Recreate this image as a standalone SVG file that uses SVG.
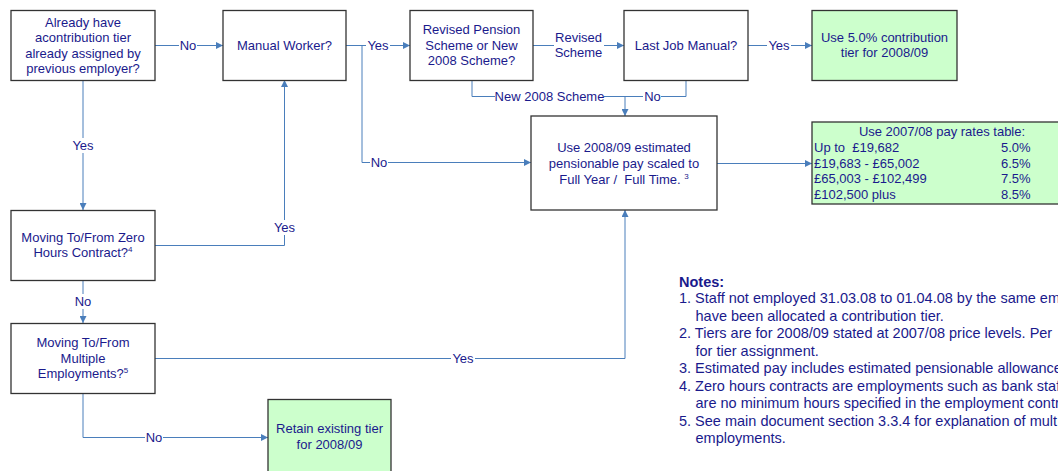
<svg xmlns="http://www.w3.org/2000/svg" width="1058" height="471" viewBox="0 0 1058 471">
<defs>
<marker id="ah" viewBox="0 0 10 10" refX="10" refY="5" markerWidth="7" markerHeight="7" markerUnits="userSpaceOnUse" orient="auto">
<path d="M0,0 L10,5 L0,10 z" fill="#4a7ebb"/>
</marker>
<style>
.box{fill:#ffffff;stroke:#333333;stroke-width:1.3}
.gbox{fill:#ccffcc;stroke:#333333;stroke-width:1.3}
.t{font-family:"Liberation Sans",Arial,sans-serif;font-size:13px;fill:#1a1a8c;text-anchor:middle}
.tl{font-family:"Liberation Sans",Arial,sans-serif;font-size:13px;fill:#1a1a8c}
.n{font-family:"Liberation Sans",Arial,sans-serif;font-size:14.5px;fill:#1a1a8c}
.c{fill:none;stroke:#4a7ebb;stroke-width:1}
.ca{fill:none;stroke:#4a7ebb;stroke-width:1;marker-end:url(#ah)}
.lb{fill:#ffffff}
.sup{font-size:8px}
</style>
</defs>
<rect width="1058" height="471" fill="#ffffff"/>
<g id="connectors">
<path class="ca" d="M155,45.5 H223"/>
<path class="ca" d="M346,45.5 H410"/>
<path class="ca" d="M362,45.5 V162.5 H531"/>
<path class="ca" d="M533,45.5 H624"/>
<path class="ca" d="M748,45.5 H812"/>
<path class="c" d="M472,80 V96.5 H625"/>
<path class="c" d="M686,80 V96.5 H625"/>
<path class="ca" d="M625,96.5 V116"/>
<path class="ca" d="M717,163.5 H812"/>
<path class="ca" d="M83,80 V210"/>
<path class="ca" d="M155,245.5 H284.5 V80"/>
<path class="ca" d="M83,281 V323"/>
<path class="ca" d="M155,358.5 H625 V210"/>
<path class="ca" d="M83,393 V437.5 H268"/>
<rect class="lb" x="179" y="38" width="18" height="15"/>
<text class="t" x="188" y="50">No</text>
<rect class="lb" x="366" y="38" width="24" height="15"/>
<text class="t" x="378" y="50">Yes</text>
<rect class="lb" x="370" y="155" width="18" height="15"/>
<text class="t" x="379" y="167">No</text>
<rect class="lb" x="554" y="28" width="50" height="30"/>
<text class="t" x="578.5" y="41.5">Revised</text>
<text class="t" x="578.5" y="57">Scheme</text>
<rect class="lb" x="767" y="38" width="24" height="15"/>
<text class="t" x="779" y="50">Yes</text>
<rect class="lb" x="495" y="89" width="109" height="15"/>
<text class="t" x="549.5" y="101">New 2008 Scheme</text>
<rect class="lb" x="643" y="89" width="18" height="15"/>
<text class="t" x="652.5" y="101">No</text>
<rect class="lb" x="71" y="138" width="24" height="15"/>
<text class="t" x="83" y="150">Yes</text>
<rect class="lb" x="272" y="220" width="24" height="15"/>
<text class="t" x="284.5" y="232">Yes</text>
<rect class="lb" x="74" y="294" width="18" height="15"/>
<text class="t" x="83" y="306">No</text>
<rect class="lb" x="451" y="351" width="24" height="15"/>
<text class="t" x="463" y="363">Yes</text>
<rect class="lb" x="145" y="430" width="18" height="15"/>
<text class="t" x="154" y="442">No</text>
</g>
<g id="node-already">
<rect class="box" x="11" y="10.5" width="144" height="70"/>
<text class="t" x="83" y="26.5">Already have</text>
<text class="t" x="83" y="42">acontribution tier</text>
<text class="t" x="83" y="57.5">already assigned by</text>
<text class="t" x="83" y="73">previous employer?</text>
</g>
<g id="node-manual">
<rect class="box" x="223" y="10.5" width="123" height="70"/>
<text class="t" x="284.5" y="50">Manual Worker?</text>
</g>
<g id="node-revised">
<rect class="box" x="410" y="10.5" width="123" height="70"/>
<text class="t" x="471.5" y="33.5">Revised Pension</text>
<text class="t" x="471.5" y="49.5">Scheme or New</text>
<text class="t" x="471.5" y="64.5">2008 Scheme?</text>
</g>
<g id="node-lastjob">
<rect class="box" x="624" y="10.5" width="124" height="70"/>
<text class="t" x="686" y="50">Last Job Manual?</text>
</g>
<g id="node-five">
<rect class="gbox" x="812" y="10.5" width="145" height="70"/>
<text class="t" x="884.5" y="42">Use 5.0% contribution</text>
<text class="t" x="884.5" y="57">tier for 2008/09</text>
</g>
<g id="node-estimate">
<rect class="box" x="531" y="116" width="186" height="94"/>
<text class="t" x="624" y="151.5">Use 2008/09 estimated</text>
<text class="t" x="624" y="167.5">pensionable pay scaled to</text>
<text class="t" x="624" y="183.5" xml:space="preserve">Full Year /  Full Time. <tspan class="sup" dy="-5">3</tspan></text>
</g>
<g id="node-table">
<rect class="gbox" x="812" y="122" width="250" height="82"/>
<text class="t" x="942" y="136">Use 2007/08 pay rates table:</text>
<text class="tl" x="814" y="151.5" xml:space="preserve">Up to  £19,682</text>
<text class="tl" x="814" y="167.5">£19,683 - £65,002</text>
<text class="tl" x="814" y="183">£65,003 - £102,499</text>
<text class="tl" x="814" y="198.5">£102,500 plus</text>
<text class="tl" x="1001" y="151.5">5.0%</text>
<text class="tl" x="1001" y="167.5">6.5%</text>
<text class="tl" x="1001" y="183">7.5%</text>
<text class="tl" x="1001" y="198.5">8.5%</text>
</g>
<g id="node-zero">
<rect class="box" x="11" y="210.5" width="144" height="70"/>
<text class="t" x="83" y="241.5">Moving To/From Zero</text>
<text class="t" x="83" y="257">Hours Contract?<tspan class="sup" dy="-5">4</tspan></text>
</g>
<g id="node-multiple">
<rect class="box" x="11" y="323.5" width="144" height="70"/>
<text class="t" x="83" y="347">Moving To/From</text>
<text class="t" x="83" y="362.5">Multiple</text>
<text class="t" x="83" y="378">Employments?<tspan class="sup" dy="-5">5</tspan></text>
</g>
<g id="node-retain">
<rect class="gbox" x="268" y="399.5" width="123" height="76"/>
<text class="t" x="329.5" y="433">Retain existing tier</text>
<text class="t" x="329.5" y="449">for 2008/09</text>
</g>
<g id="notes">
<text class="n" x="679" y="286.5" font-weight="bold">Notes:</text>
<text class="n" x="679" y="303">1. Staff not employed 31.03.08 to 01.04.08 by the same em</text>
<text class="n" x="695.5" y="320.5">have been allocated a contribution tier.</text>
<text class="n" x="679" y="338">2. Tiers are for 2008/09 stated at 2007/08 price levels.  Per</text>
<text class="n" x="695.5" y="355.5">for tier assignment.</text>
<text class="n" x="679" y="373">3. Estimated pay includes estimated pensionable allowance</text>
<text class="n" x="679" y="390.5">4. Zero hours contracts are employments such as bank staf</text>
<text class="n" x="695.5" y="408">are no minimum hours specified in the employment contr</text>
<text class="n" x="679" y="425.5">5. See main document section 3.3.4 for explanation of mult</text>
<text class="n" x="695.5" y="443">employments.</text>
</g>
</svg>
